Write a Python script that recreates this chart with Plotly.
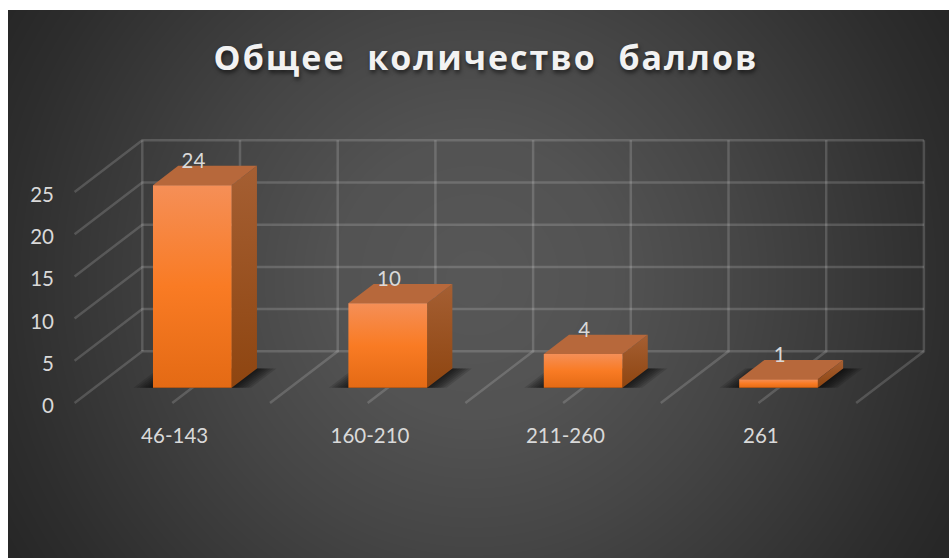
import base64
import struct
import zlib

import numpy as np
import plotly.graph_objects as go

# ---- data ----
categories = ["46-143", "160-210", "211-260", "261"]
values = [24, 10, 4, 1]
y_ticks = [0, 5, 10, 15, 20, 25]
title_text = "Общее  количество  баллов"

# ---- oblique 3-D look, in axis units ----
W, H = 949, 558
L, R, T, B = 66, 10, 130, 150     # margins round the axes area
PX_C, PX_V = 195.4, 8.44          # pixels per category, per value unit
DX, DY = 0.3465, 6.125            # full depth vector (categories, value units)
D0, D1 = 0.296, 0.669             # depth span of a bar
HALF = 0.2014                     # half bar width in categories
X_LABEL_NUDGE, Y_LABEL_NUDGE = 0.012, 0.33   # text sits slightly off its tick in the original
# axes ranges chosen so that the front plane keeps its scale and the walls fit inside
X_MIN = -0.5 - (74.6 - L) / PX_C
X_MAX = X_MIN + (W - L - R) / PX_C
Y_MIN = -(H - B - 403) / PX_V
Y_MAX = Y_MIN + (H - T - B) / PX_V


def proj(c, v, d):
    return c + d * DX, v + d * DY


def background_uri(w=941, h=548):
    yy, xx = np.mgrid[0:h, 0:w]
    r = np.hypot(xx - w * 0.495, yy - h * 0.49) / (w / 2)
    g = np.interp(r, [0, 0.3, 0.57, 1.0, 1.15], [0x58, 0x53, 0x46, 0x2e, 0x27])
    g = g.astype(np.uint8)
    rows = b"".join(b"\0" + np.repeat(row, 3).tobytes() for row in g)

    def chunk(tag, body):
        return struct.pack(">I", len(body)) + tag + body + struct.pack(">I", zlib.crc32(tag + body))

    png = b"\x89PNG\r\n\x1a\n" + chunk(b"IHDR", struct.pack(">IIBBBBB", w, h, 8, 2, 0, 0, 0)) \
        + chunk(b"IDAT", zlib.compress(rows)) + chunk(b"IEND", b"")
    return "data:image/png;base64," + base64.b64encode(png).decode()


def poly(points, **kw):
    xs, ys = zip(*points)
    return go.Scatter(x=list(xs) + [xs[0]], y=list(ys) + [ys[0]], mode="lines", fill="toself",
                      line=dict(width=0), hoverinfo="skip", showlegend=False, **kw)


fig = go.Figure()

# grid: back wall, left wall, floor
grid_c = [i / 2 - 0.5 for i in range(9)]
gx, gy = [], []
for v in y_ticks:
    for p in (proj(grid_c[0], v, 0), proj(grid_c[0], v, 1), proj(grid_c[-1], v, 1), (None, None)):
        gx.append(p[0]); gy.append(p[1])
for j, c in enumerate(grid_c):
    start = proj(c, 0, 1) if j == 0 else proj(c, 0, 0)   # the first floor line is drawn above already
    for p in (start, proj(c, 0, 1), proj(c, y_ticks[-1], 1), (None, None)):
        gx.append(p[0]); gy.append(p[1])
fig.add_trace(go.Scatter(x=gx, y=gy, mode="lines", line=dict(color="rgba(255,255,255,0.16)", width=2.5),
                         hoverinfo="skip", showlegend=False))

# floor shadows
for i, _ in enumerate(values):
    for e in (0.10, 0.085, 0.07, 0.055, 0.04, 0.025, 0.01):
        fig.add_trace(poly([proj(i - HALF - e, 0, D0), proj(i + HALF + e, 0, D0),
                            proj(i + HALF + e, 0, D1), proj(i - HALF - e, 0, D1)],
                           fillcolor="rgba(0,0,0,0.13)"))

# bars (fillgradient colorscale position 0 is the bottom of the polygon)
FRONT = [[0, "#E46A14"], [0.5, "#F97B24"], [1, "#F58F57"]]
SIDE = [[0, "#8E4510"], [1, "#A55F33"]]
for i, v in enumerate(values):
    a, b = i - HALF, i + HALF
    fig.add_trace(poly([proj(b, 0, D0), proj(b, 0, D1), proj(b, v, D1), proj(b, v, D0)],
                       fillgradient=dict(type="vertical", colorscale=SIDE)))
    fig.add_trace(poly([proj(a, v, D0), proj(b, v, D0), proj(b, v, D1), proj(a, v, D1)],
                       fillcolor="#B7683B"))
    fig.add_trace(poly([proj(a, 0, D0), proj(b, 0, D0), proj(b, v, D0), proj(a, v, D0)],
                       fillgradient=dict(type="vertical", colorscale=FRONT)))

# value labels
lab = [proj(i, v, D0) for i, v in enumerate(values)]
fig.add_trace(go.Scatter(x=[p[0] + X_LABEL_NUDGE / 2 for p in lab], y=[p[1] + 2.65 for p in lab], mode="text",
                         text=[str(v) for v in values], hoverinfo="skip", showlegend=False,
                         textfont=dict(family="Lato", size=20.5, color="#D9D9D9")))

plot_w, plot_h = W - L - R, H - T - B
fig.add_layout_image(dict(source=background_uri(), xref="paper", yref="paper",
                          x=(8 - L) / plot_w, y=1 + (T - 10) / plot_h,
                          sizex=941 / plot_w, sizey=548 / plot_h,
                          xanchor="left", yanchor="top", sizing="stretch", layer="below"))

fig.update_layout(
    width=W, height=H, autosize=False,
    margin=dict(l=L, r=R, t=T, b=B, pad=0),
    paper_bgcolor="white", plot_bgcolor="rgba(0,0,0,0)",
    showlegend=False,
    title=dict(text=title_text, xref="container", yref="container", x=486 / W, y=1 - 58 / H,
               xanchor="center", yanchor="middle",
               font=dict(family="Open Sans", size=34, color="#F2F2F2", weight="bold",
                         shadow="1px 3px 4px rgba(0,0,0,0.55)")),
    xaxis=dict(range=[X_MIN, X_MAX], tickmode="array",
               tickvals=[i + X_LABEL_NUDGE for i in range(len(categories))], ticktext=categories,
               showgrid=False, zeroline=False, showline=False, ticks="", ticklabelstandoff=13,
               tickfont=dict(family="Lato", size=20.5, color="#D9D9D9"), fixedrange=True),
    yaxis=dict(range=[Y_MIN, Y_MAX], tickmode="array",
               tickvals=[v - Y_LABEL_NUDGE for v in y_ticks], ticktext=[str(v) for v in y_ticks],
               showgrid=False, zeroline=False, showline=False, ticks="", ticklabelstandoff=11,
               tickfont=dict(family="Lato", size=20.5, color="#D9D9D9"), fixedrange=True),
)

fig.write_html("out.html", config={"displayModeBar": False},
               post_script="document.body.style.margin='0';"
                           "document.querySelector('.gtitle').style.letterSpacing='2px';")
